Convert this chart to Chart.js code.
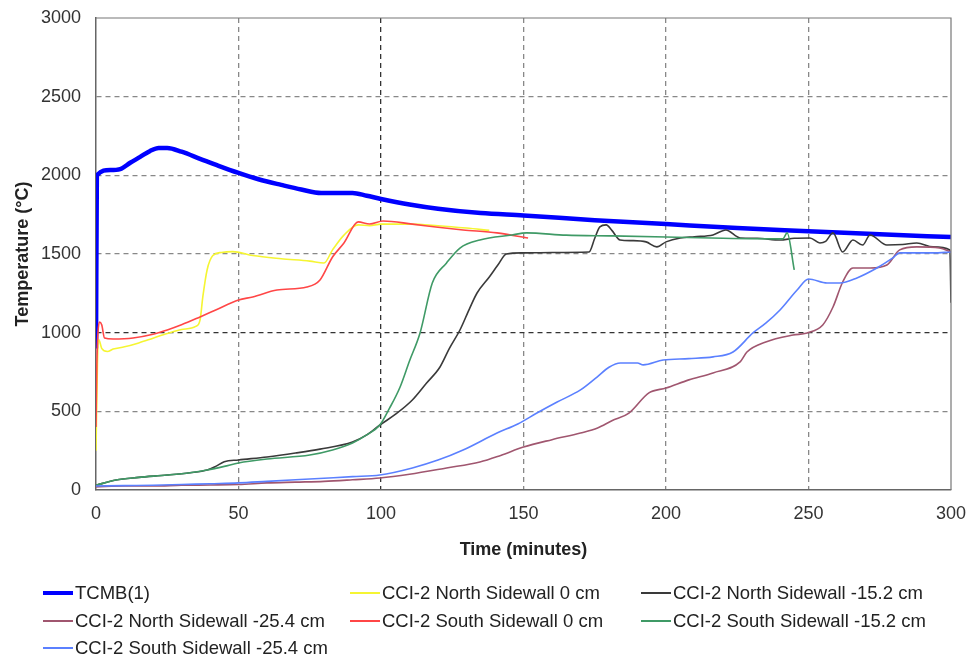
<!DOCTYPE html>
<html>
<head>
<meta charset="utf-8">
<script src="https://cdn.jsdelivr.net/npm/chart.js@4.4.0/dist/chart.umd.min.js"></script>
<style>
  html, body { margin: 0; padding: 0; background: #fff; }
  #wrap { position: relative; width: 969px; height: 656px; }
  #legend { position: absolute; left: 0; top: 0; width: 969px; height: 656px; pointer-events: none;
    font-family: "Liberation Sans", Arial, sans-serif; font-size: 18.5px; color: #222; }
  .lg-item { position: absolute; display: flex; align-items: center; white-space: nowrap; height: 24px; }
  .lg-line { width: 30px; margin-right: 2px; }
</style>
</head>
<body>
<div id="wrap">
  <canvas id="chart" width="969" height="656"></canvas>
  <div id="legend"></div>
</div>
<script>
// TCMB(1)
const tcmbT = [0, 0.3, 5, 8.5, 12, 15.5, 19, 22, 25, 30, 36.5, 43, 50, 57, 65, 72, 79, 90, 95, 100, 110, 120, 135, 150, 175, 200, 225, 250, 275, 300];
const tcmbV = [900, 2000, 2034, 2040, 2080, 2117, 2155, 2174, 2174, 2150, 2105, 2060, 2015, 1975, 1939, 1910, 1888, 1888, 1870, 1850, 1815, 1788, 1760, 1745, 1715, 1690, 1665, 1645, 1625, 1608];

// CCI-2 North Sidewall 0 cm
const n0T = [0, 0.5, 1, 2, 4, 6, 10, 15, 20, 25, 30, 35, 36.5, 37.5, 39, 41, 44, 48, 55, 65, 75, 80, 83, 87, 92, 96, 100, 110, 120, 130, 138];
const n0V = [250, 800, 954, 900, 880, 896, 910, 935, 965, 995, 1020, 1040, 1080, 1230, 1400, 1490, 1510, 1515, 1490, 1470, 1455, 1443, 1526, 1620, 1685, 1680, 1690, 1690, 1680, 1665, 1650];

// CCI-2 North Sidewall -15.2 cm
const n15T = [0, 7, 15, 25, 33, 39, 42, 45, 50, 60, 70, 78.6, 90, 95, 99.6, 105, 111, 116, 120.7, 124, 127.7, 131, 133.7, 138, 141, 144, 149.8, 160, 173, 175, 176.8, 179, 181, 183.9, 188, 193, 196.8, 200, 205, 210, 216.5, 221, 226, 232, 240, 245, 250.5, 254, 256, 258.6, 262, 265.6, 269, 271.6, 277.5, 283, 288, 293.7, 299.6, 300];
const n15V = [30, 64, 80, 95, 110, 127, 150, 180, 191, 210, 235, 260, 305, 350, 413, 480, 572, 680, 782, 900, 1017, 1150, 1252, 1354, 1430, 1500, 1507, 1510, 1513, 1600, 1672, 1685, 1650, 1589, 1585, 1577, 1545, 1577, 1602, 1610, 1621, 1653, 1602, 1600, 1589, 1600, 1602, 1570, 1580, 1634, 1513, 1589, 1557, 1621, 1557, 1560, 1570, 1545, 1526, 1190];

// CCI-2 North Sidewall -25.4 cm
const n25T = [0, 10, 20, 30, 40, 50, 60, 70, 80, 90, 99.6, 110, 123, 134.7, 142, 150, 160, 170, 176, 181, 187, 194, 200, 208, 216.5, 226, 228.4, 235, 244.6, 249.5, 255, 258.6, 262, 265.6, 271.6, 277.5, 282, 288, 296, 300];
const n25V = [20, 25, 25, 30, 32, 35, 45, 50, 55, 65, 76, 100, 140, 178, 220, 273, 320, 362, 394, 440, 489, 617, 648, 700, 744, 814, 877, 941, 985, 998, 1049, 1163, 1322, 1411, 1411, 1430, 1526, 1545, 1538, 1513];

// CCI-2 South Sidewall 0 cm
const s0T = [0, 0.3, 0.7, 1.2, 2, 3, 6, 13, 20, 25, 30, 36.5, 42, 50, 55, 63.5, 74, 78.6, 83, 87, 92, 96, 100.7, 111, 120, 128.8, 140.7, 151.6];
const s0V = [400, 800, 1000, 1068, 1050, 966, 960, 966, 990, 1017, 1050, 1100, 1144, 1208, 1227, 1271, 1290, 1335, 1481, 1570, 1704, 1691, 1710, 1690, 1670, 1653, 1634, 1602];

// CCI-2 South Sidewall -15.2 cm
const s15T = [0, 7, 15, 25, 33, 39, 45, 50, 60, 75, 83, 90, 95, 99.6, 103, 106.7, 110, 113.7, 118, 123, 127.7, 134.7, 146, 151, 165, 181, 200, 220, 241, 242.5, 245];
const s15V = [30, 64, 80, 95, 110, 127, 150, 172, 197, 222, 254, 299, 350, 413, 520, 655, 820, 998, 1316, 1443, 1538, 1589, 1621, 1634, 1620, 1615, 1608, 1600, 1596, 1634, 1399];

// CCI-2 South Sidewall -25.4 cm
const s25T = [0, 10, 20, 30, 40, 50, 60, 70, 80, 90, 99.6, 111, 120, 128.8, 140.7, 148, 154.7, 161.8, 170, 175.8, 180, 184, 190, 192, 199, 208, 216.5, 223.5, 230.5, 235, 240, 246, 250, 256.5, 261, 267, 274, 279.6, 282, 293.7, 300];
const s25V = [25, 28, 30, 35, 40, 45, 55, 65, 75, 85, 95, 140, 190, 254, 362, 420, 489, 559, 636, 718, 780, 807, 807, 795, 826, 835, 846, 877, 998, 1060, 1144, 1271, 1341, 1316, 1316, 1348, 1411, 1475, 1507, 1507, 1513];

const xTicks = [0, 50, 100, 150, 200, 250, 300];
const yTicks = [0, 500, 1000, 1500, 2000, 2500, 3000];

const pts = (t, v) => t.map((x, i) => ({ x: x, y: v[i] }));

const series = [
  { label: 'TCMB(1)', t: tcmbT, v: tcmbV, color: '#0000ff', width: 4.5 },
  { label: 'CCI-2 North Sidewall 0 cm', t: n0T, v: n0V, color: '#f5f532', width: 1.6 },
  { label: 'CCI-2 North Sidewall -15.2 cm', t: n15T, v: n15V, color: '#3a3a3a', width: 1.6 },
  { label: 'CCI-2 North Sidewall -25.4 cm', t: n25T, v: n25V, color: '#a0566f', width: 1.6 },
  { label: 'CCI-2 South Sidewall 0 cm', t: s0T, v: s0V, color: '#ff4646', width: 1.6 },
  { label: 'CCI-2 South Sidewall -15.2 cm', t: s15T, v: s15V, color: '#3f9a66', width: 1.6 },
  { label: 'CCI-2 South Sidewall -25.4 cm', t: s25T, v: s25V, color: '#5b80ff', width: 1.6 }
];

// dark dashed line at 100 min / 1000 °C, light dashed elsewhere, none on the frame
function gridColor(ctx, mid, max) {
  const v = ctx.tick ? ctx.tick.value : null;
  if (v === 0 || v === max) return 'rgba(0,0,0,0)';
  return v === mid ? '#333' : '#888';
}

const framePlugin = {
  id: 'frame',
  afterDraw(chart) {
    const a = chart.chartArea;
    const c = chart.ctx;
    c.save();
    c.strokeStyle = '#777';
    c.lineWidth = 1.2;
    c.beginPath();
    c.moveTo(a.left, a.top);
    c.lineTo(a.right, a.top);
    c.lineTo(a.right, a.bottom);
    c.stroke();
    c.restore();
  }
};

const font = "'Liberation Sans', Arial, sans-serif";

new Chart(document.getElementById('chart'), {
  type: 'line',
  data: {
    datasets: series.slice().reverse().map(s => ({
      label: s.label,
      data: pts(s.t, s.v),
      borderColor: s.color,
      backgroundColor: s.color,
      borderWidth: s.width,
      pointRadius: 0,
      cubicInterpolationMode: 'monotone',
      fill: false
    }))
  },
  options: {
    responsive: false,
    animation: false,
    layout: { padding: { top: 18, right: 18, bottom: 91, left: 0 } },
    plugins: { legend: { display: false }, tooltip: { enabled: false } },
    scales: {
      x: {
        type: 'linear', min: 0, max: 300,
        afterBuildTicks: s => { s.ticks = xTicks.map(v => ({ value: v })); },
        afterFit: s => { s.height = 75; s.paddingLeft = 0; s.paddingRight = 0; },
        ticks: { padding: 13, color: '#333', font: { family: font, size: 18 }, maxRotation: 0,
                 callback: v => String(v) },
        grid: { drawTicks: false, lineWidth: 1.3, color: c => gridColor(c, 100, 300) },
        border: { display: true, color: '#666', width: 1.5, dash: [5, 4] },
        title: { display: true, text: 'Time (minutes)', color: '#222', padding: { top: 0, bottom: 4 },
                 font: { family: font, size: 18, weight: 'bold' } }
      },
      y: {
        type: 'linear', min: 0, max: 3000,
        afterBuildTicks: s => { s.ticks = yTicks.map(v => ({ value: v })); },
        afterFit: s => { s.width = 96; s.paddingTop = 0; s.paddingBottom = 0; },
        ticks: { padding: 15, color: '#333', font: { family: font, size: 18 },
                 callback: v => String(v) },
        grid: { drawTicks: false, lineWidth: 1.3, color: c => gridColor(c, 1000, 3000) },
        border: { display: true, color: '#666', width: 1.5, dash: [5, 4] },
        title: { display: true, text: 'Temperature (°C)', color: '#222', padding: { top: 12, bottom: 0 },
                 font: { family: font, size: 18, weight: 'bold' } }
      }
    }
  },
  plugins: [framePlugin]
});

// legend: three columns, items in reading order
const legendCols = [43, 350, 641];
const legendRows = [593, 621, 648];
const legend = document.getElementById('legend');
series.forEach((s, i) => {
  const item = document.createElement('div');
  item.className = 'lg-item';
  item.style.left = legendCols[i % 3] + 'px';
  item.style.top = (legendRows[Math.floor(i / 3)] - 12) + 'px';
  const line = document.createElement('span');
  line.className = 'lg-line';
  line.style.borderTop = (s.width > 3 ? 4 : 2) + 'px solid ' + s.color;
  const txt = document.createElement('span');
  txt.textContent = s.label;
  item.appendChild(line);
  item.appendChild(txt);
  legend.appendChild(item);
});
</script>
</body>
</html>
